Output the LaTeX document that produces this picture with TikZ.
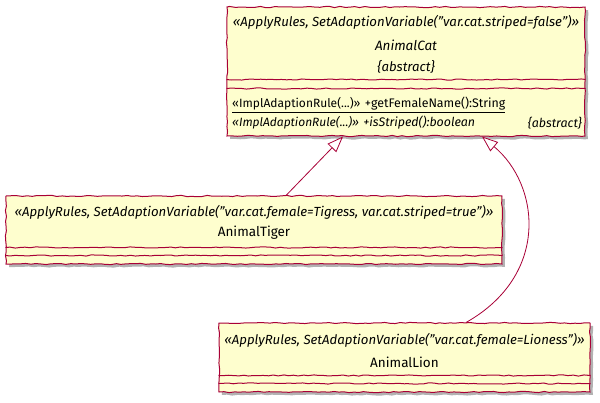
\documentclass[tikz,border=0pt]{standalone}
\usepackage{fontspec}
\setmainfont{Fira Sans}
\usetikzlibrary{arrows.meta,shadows,decorations.pathmorphing}
\definecolor{umlfill}{HTML}{FEFECE}
\definecolor{umlline}{HTML}{A80036}
\tikzset{
  wobbly/.style={decorate, decoration={random steps, segment length=5pt, amplitude=0.6pt}},
  classbox/.style={draw=umlline, fill=umlfill, line width=1pt, wobbly, inner sep=0pt,
    drop shadow={shadow xshift=3pt, shadow yshift=-3pt, opacity=0.3, fill=black}},
  divider/.style={draw=umlline, line width=1pt, wobbly},
  stereo/.style={font=\fontsize{13.2}{15}\selectfont\itshape, inner sep=0pt},
  cname/.style={font=\fontsize{13.5}{15}\selectfont, inner sep=0pt},
  member/.style={font=\fontsize{12.4}{14}\selectfont, inner sep=0pt},
  extends/.style={draw=umlline, line width=0.8pt, -{Triangle[open, length=16pt, width=12pt, fill=white]}}
}
\begin{document}
\pgfmathsetseed{7}
\begin{tikzpicture}[x=1pt, y=1pt]
\useasboundingbox (0,0) rectangle (600,-402);
% class boxes
\node[classbox, minimum width=358pt, minimum height=129pt] (cat) at (406,-71.5) {};
\node[classbox, minimum width=496pt, minimum height=68pt] (tiger) at (254,-230) {};
\node[classbox, minimum width=371pt, minimum height=69pt] (lion) at (404.5,-357.5) {};
% compartments
\draw[divider] ([yshift=-73pt]cat.north west) -- ([yshift=-73pt]cat.north east);
\draw[divider] ([yshift=-82pt]cat.north west) -- ([yshift=-82pt]cat.north east);
\draw[divider] ([yshift=-52pt]tiger.north west) -- ([yshift=-52pt]tiger.north east);
\draw[divider] ([yshift=-60pt]tiger.north west) -- ([yshift=-60pt]tiger.north east);
\draw[divider] ([yshift=-53pt]lion.north west) -- ([yshift=-53pt]lion.north east);
\draw[divider] ([yshift=-61pt]lion.north west) -- ([yshift=-61pt]lion.north east);
% AnimalCat
\node[stereo] (catstereo) at (406,-22) {«ApplyRules, SetAdaptionVariable("var.cat.striped=false")»};
\node[cname, font=\fontsize{13.5}{15}\selectfont\itshape] (catname) at (406,-45) {AnimalCat};
\node[stereo] (catabstract) at (406,-67) {\{abstract\}};
\node[member, anchor=west] (catfemale) at (232,-105) {\underline{{\fontsize{12}{14}\selectfont«ImplAdaptionRule(...)»} +getFemaleName():String}};
\node[member, anchor=west, font=\fontsize{12.4}{14}\selectfont\itshape] (catstriped) at (232,-123) {{\fontsize{12}{14}\selectfont«ImplAdaptionRule(...)»} +isStriped():boolean};
\node[member, anchor=east, font=\fontsize{12.4}{14}\selectfont\itshape] (catstripedabs) at (582,-123) {\{abstract\}};
% AnimalTiger
\node[stereo] (tigerstereo) at (254,-212) {«ApplyRules, SetAdaptionVariable("var.cat.female=Tigress, var.cat.striped=true")»};
\node[cname] (tigername) at (254,-233) {AnimalTiger};
% AnimalLion
\node[stereo] (lionstereo) at (404.5,-340) {«ApplyRules, SetAdaptionVariable("var.cat.female=Lioness")»};
\node[cname] (lionname) at (404.5,-362) {AnimalLion};
% generalizations
\draw[extends] ([xshift=32pt]tiger.north) -- ([xshift=-63pt]cat.south);
\draw[extends] ([xshift=61.5pt]lion.north) .. controls (550,-275) and (540,-185) .. ([xshift=76pt]cat.south);
\end{tikzpicture}
\end{document}
